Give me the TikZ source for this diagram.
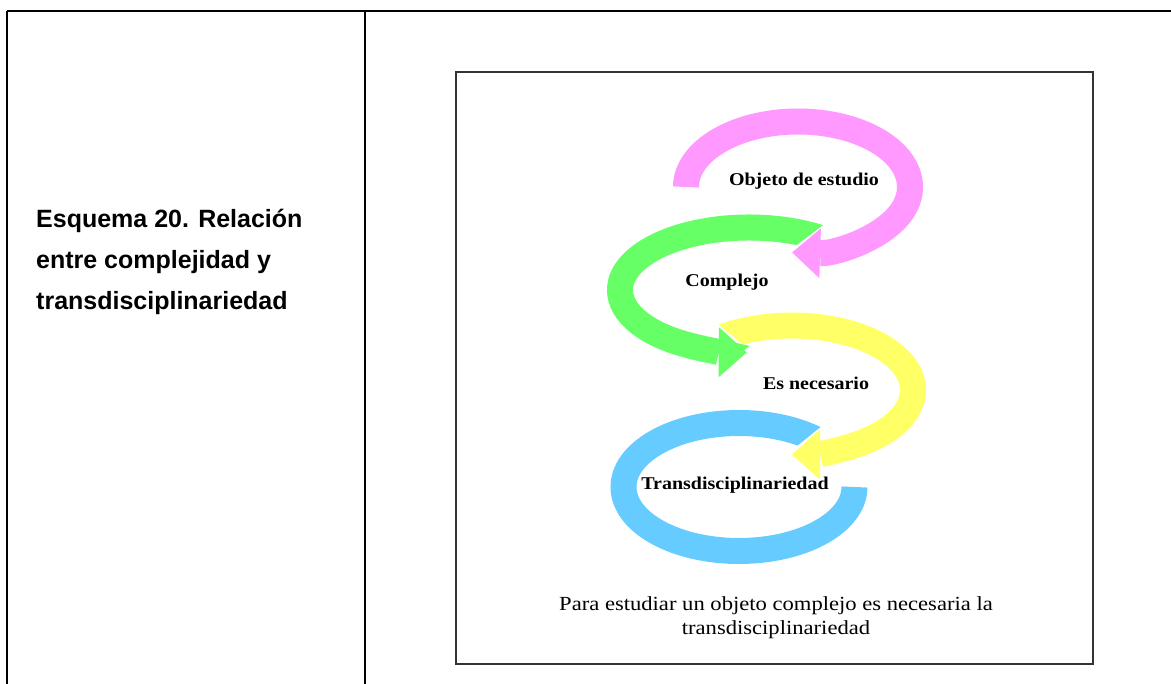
\documentclass[tikz,border=0pt]{standalone}
\usepackage{fontspec}
\setmainfont{Liberation Serif}
\setsansfont{Liberation Sans}
\usetikzlibrary{arrows.meta}

\definecolor{rosa}{HTML}{FF99FF}
\definecolor{verde}{HTML}{66FF66}
\definecolor{amarillo}{HTML}{FFFF66}
\definecolor{celeste}{HTML}{66CCFF}

\begin{document}
\begin{tikzpicture}
		[x=1pt,y=1pt,
		 rule/.style= {line width=2.5pt},
		 band/.style= {line width=26pt},
		 gapband/.style= {band,white,-{Triangle[width=64pt,length=38pt,line width=0pt]}},
		 headband/.style= {band,#1,-{Triangle[width=50pt,length=28pt,line width=0pt]}},
		 word/.style= {font=\bfseries\fontsize{18}{20}\selectfont,xscale=1.11}]
		
		\useasboundingbox (0,0) rectangle (1171,-684);
		
		% table and frame
		\draw[rule] (7,-11) -- (1171,-11);
		\draw[rule] (7,-11) -- (7,-684);
		\draw[rule] (365,-11) -- (365,-684);
		\draw[black!80,line width=1.5pt] (456,-72) rectangle (1093,-664);
		
		\coordinate (pc) at (798,-187);
		\coordinate (gc) at (749,-290);
		\coordinate (yc) at (792,-390);
		\coordinate (bc) at (739,-487);
		
		% rings, last one first
		\draw[band,celeste] ([shift={(48:115.5 and 64)}]bc) arc[start angle=48,end angle=360,x radius=115.5,y radius=64];
		
		\draw[gapband] ([shift={(125:121 and 64.5)}]yc) arc[start angle=125,end angle=-92.5,x radius=121,y radius=64.5];
		\draw[headband=amarillo] ([shift={(125:121 and 64.5)}]yc) arc[start angle=125,end angle=-90,x radius=121,y radius=64.5];
		
		\draw[gapband] ([shift={(57:129 and 62.5)}]gc) arc[start angle=57,end angle=271.5,x radius=129,y radius=62.5];
		\draw[headband=verde] ([shift={(57:129 and 62.5)}]gc) arc[start angle=57,end angle=269,x radius=129,y radius=62.5];
		
		\draw[gapband] ([shift={(180:112 and 65.5)}]pc) arc[start angle=180,end angle=60,x radius=112,y radius=65.5]
			arc[start angle=60,end angle=-95.5,x radius=112,y radius=65.5];
		\draw[headband=rosa] ([shift={(180:112 and 65.5)}]pc) arc[start angle=180,end angle=60,x radius=112,y radius=65.5]
			arc[start angle=60,end angle=-93,x radius=112,y radius=65.5];
		
		\node[word] (objeto) at (804,-181) {Objeto de estudio};
		\node[word] (complejo) at (727,-282) {Complejo};
		\node[word] (necesario) at (816,-383) {Es necesario};
		\node[word] (trans) at (735,-485) {Transdisciplinariedad};
		
		\node[align=center,font=\fontsize{20}{24}\selectfont,xscale=1.13] (nota) at (776,-618)
			{Para estudiar un objeto complejo es necesaria la\\transdisciplinariedad};
		
		\node[anchor=west,align=left,inner sep=0,font=\sffamily\bfseries\fontsize{25}{41}\selectfont] (titulo) at (36,-262)
			{Esquema 20. Relación\\entre complejidad y\\transdisciplinariedad};
		
	\end{tikzpicture}
\end{document}
